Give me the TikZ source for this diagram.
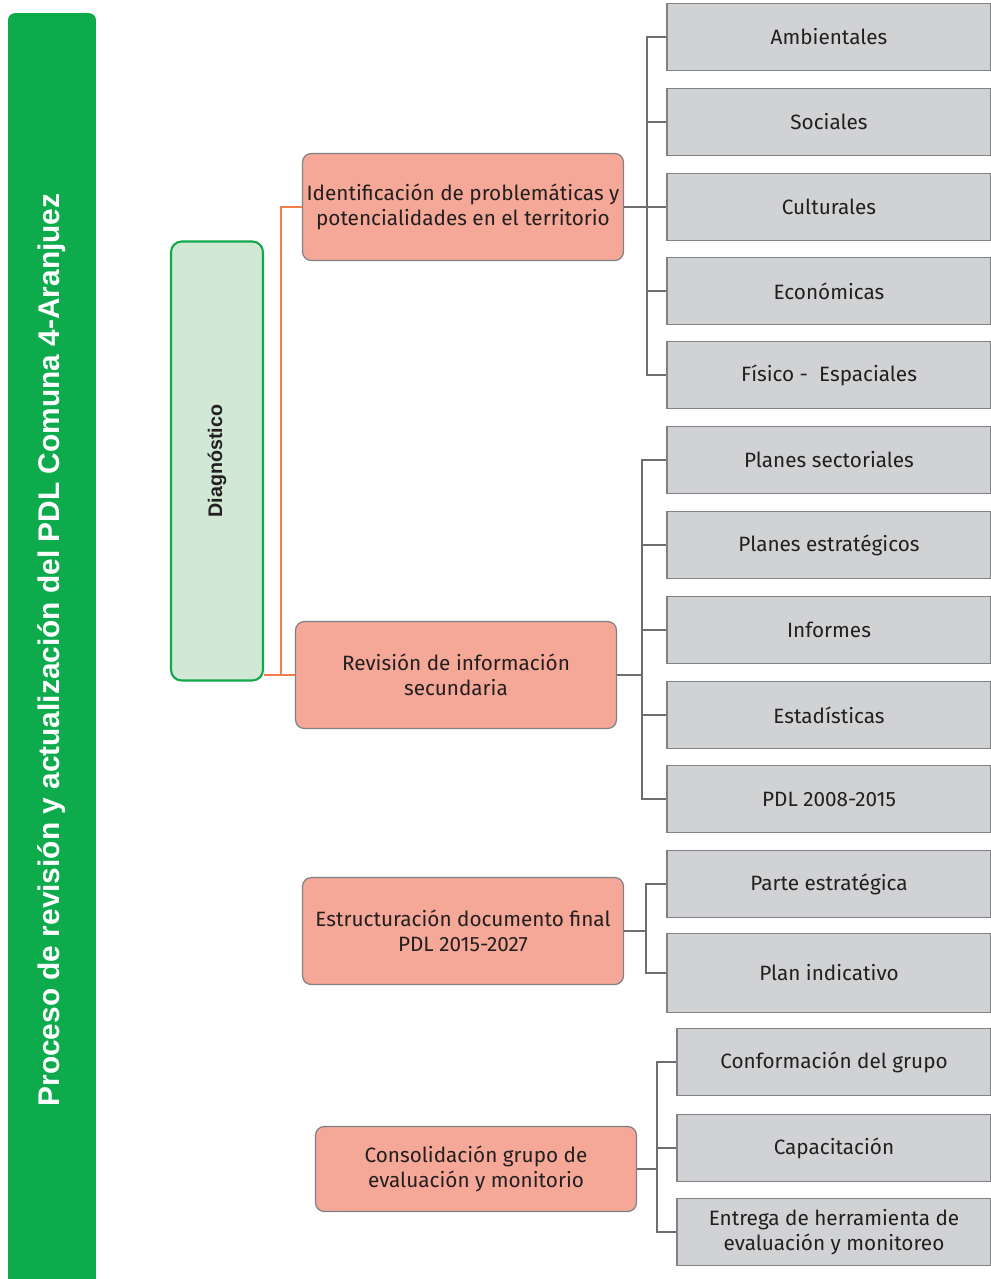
\documentclass[tikz,border=0pt]{standalone}
\usepackage{fontspec}
\setmainfont{Fira Sans}
\newfontfamily\arialfont{Liberation Sans}
\usetikzlibrary{positioning}

\definecolor{barfill}{HTML}{0DAB4B}
\definecolor{diagfill}{HTML}{D1E8D4}
\definecolor{diagline}{HTML}{12A84B}
\definecolor{stagefill}{HTML}{F5A897}
\definecolor{boxline}{HTML}{808184}
\definecolor{itemfill}{HTML}{D1D2D4}
\definecolor{treeline}{HTML}{6D6E71}
\definecolor{linkorange}{HTML}{F47C4A}
\definecolor{txt}{HTML}{231F20}

\tikzset{
  item/.style={draw=boxline, fill=itemfill, line width=0.7pt, text=txt,
    minimum width=6.48cm, minimum height=1.34cm, align=center,
    font=\fontsize{11.8}{14}\selectfont},
  stage/.style={draw=boxline, fill=stagefill, line width=0.7pt, text=txt,
    rounded corners=5pt, minimum width=6.42cm, minimum height=2.14cm,
    inner xsep=1pt, align=center, font=\fontsize{11.8}{14}\selectfont},
  tree/.style={draw=treeline, line width=1.6pt},
  link/.style={draw=linkorange, line width=1.1pt},
}

\begin{document}
\begin{tikzpicture}[x=0.02cm, y=-0.02cm]
        \useasboundingbox (0,0) rectangle (991,1279);

        % title bar
        \node [fill=barfill, rounded corners=4pt, rotate=90, minimum width=25.48cm,
               minimum height=1.76cm, text=white,
               font=\arialfont\bfseries\fontsize{17}{20}\selectfont]
              (title) at (52,650) {Proceso de revisión y actualización del PDL Comuna 4-Aranjuez};

        % phase (rotated: its south side faces right)
        \node [draw=diagline, fill=diagfill, line width=1.2pt, rounded corners=6pt,
               rotate=90, minimum width=8.78cm, minimum height=1.84cm, text=txt,
               font=\arialfont\bfseries\fontsize{11.2}{13}\selectfont]
              (diag) at (217,461) {Diagnóstico};

        % stages
        \node [stage]                     (ident) at (463,207)  {Identificación de problemáticas y\\potencialidades en el territorio};
        \node [stage]                     (rev)   at (456,675)  {Revisión de información\\secundaria};
        \node [stage]                     (estr)  at (463,931)  {Estructuración documento final\\PDL 2015-2027};
        \node [stage, minimum height=1.7cm] (cons) at (476,1169) {Consolidación grupo de\\evaluación y monitorio};

        % items
        \node [item] (amb)  at (829,37)  {Ambientales};
        \node [item] (soc)  at (829,122) {Sociales};
        \node [item] (cul)  at (829,207) {Culturales};
        \node [item] (eco)  at (829,291) {Económicas};
        \node [item] (fis)  at (829,375) {Físico -~ Espaciales};

        \node [item] (psec) at (829,460) {Planes sectoriales};
        \node [item] (pest) at (829,545) {Planes estratégicos};
        \node [item] (inf)  at (829,630) {Informes};
        \node [item] (est)  at (829,715) {Estadísticas};
        \node [item] (pdl)  at (829,799) {PDL 2008-2015};

        \node [item]                      (parte) at (829,884) {Parte estratégica};
        \node [item, minimum height=1.58cm] (plan) at (829,973) {Plan indicativo};

        \node [item, minimum width=6.28cm] (conf) at (834,1062) {Conformación del grupo};
        \node [item, minimum width=6.28cm] (cap)  at (834,1148) {Capacitación};
        \node [item, minimum width=6.28cm] (ent)  at (834,1232) {Entrega de herramienta de\\evaluación y monitoreo};

        % connectors
        \coordinate (fork) at (diag.south |- rev.west);
        \draw [link] (fork) -- ++(17,0) |- (ident.west);
        \draw [link] (fork) -- (rev.west);

        \foreach \c in {amb,soc,cul,eco,fis}
          \draw [tree] (ident.east) -- ++(23,0) |- (\c.west);
        \foreach \c in {psec,pest,inf,est,pdl}
          \draw [tree] (rev.east) -- ++(25,0) |- (\c.west);
        \foreach \c in {parte,plan}
          \draw [tree] (estr.east) -- ++(22,0) |- (\c.west);
        \foreach \c in {conf,cap,ent}
          \draw [tree] (cons.east) -- ++(20,0) |- (\c.west);
\end{tikzpicture}
\end{document}
